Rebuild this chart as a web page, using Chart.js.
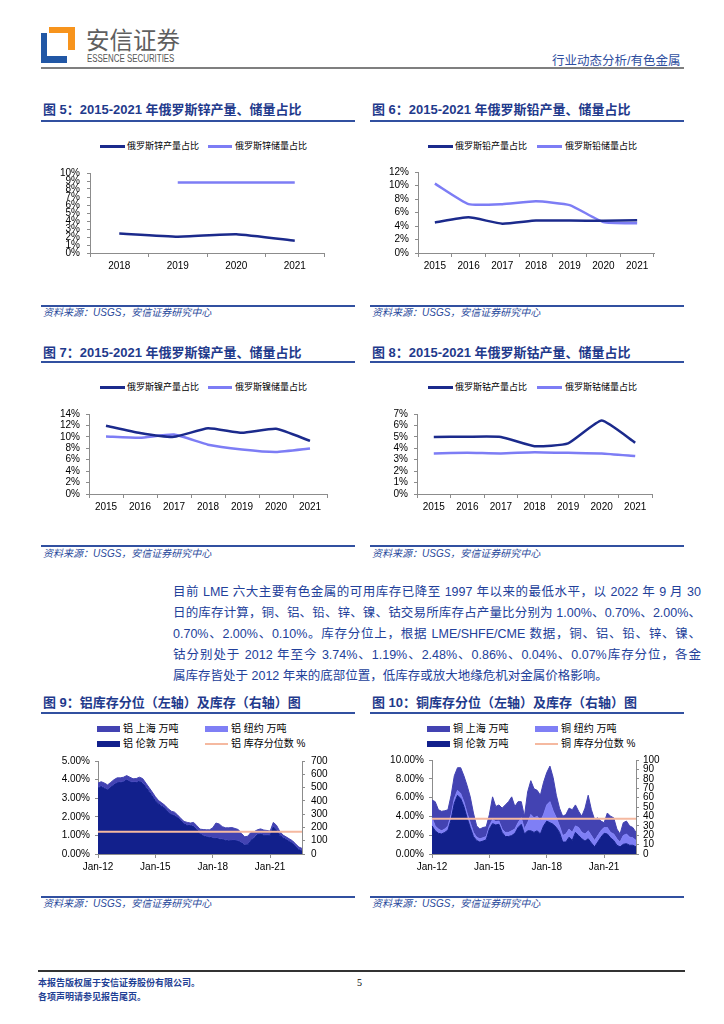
<!DOCTYPE html>
<html>
<head>
<meta charset="utf-8">
<script src="https://cdn.jsdelivr.net/npm/chart.js@4.4.0/dist/chart.umd.min.js"></script>
<style>
  body { margin: 0; background: #fff; width: 724px; height: 1024px; position: relative; overflow: hidden;
         font-family: "Liberation Sans", "Noto Sans CJK SC", sans-serif; }
  .abs { position: absolute; white-space: nowrap; }
  .title { position: absolute; white-space: nowrap; font-size: 13px; line-height: 16px; font-weight: bold; color: #1f3a8c; }
  .rule { position: absolute; height: 2px; background: #3150a0; }
  .src { position: absolute; white-space: nowrap; font-size: 10px; line-height: 14px; font-style: italic; color: #2a4a9c; }
  .leg { position: absolute; white-space: nowrap; font-size: 9px; line-height: 12px; color: #000; }
  .leg2 { position: absolute; white-space: nowrap; font-size: 10px; line-height: 12px; color: #000; }
  .mark { position: absolute; }
  .pline { position: absolute; left: 173px; width: 528px; font-size: 12.5px; line-height: 16px; color: #22409a;
           text-align: justify; text-align-last: justify; }
  canvas { position: absolute; }
</style>
</head>
<body>

<!-- header -->
<div class="mark" style="left:49px;top:27px;width:26px;height:6px;background:#f7941d"></div>
<div class="mark" style="left:68px;top:27px;width:7px;height:23px;background:#f7941d"></div>
<div class="mark" style="left:41px;top:33px;width:6px;height:30px;background:#2157a5"></div>
<div class="mark" style="left:41px;top:56px;width:26px;height:7px;background:#2157a5"></div>
<div class="abs" style="left:86px;top:26px;font-size:23.5px;line-height:26px;color:#5f5f5f;font-family:'Noto Sans CJK SC'">安信证券</div>
<div class="abs" style="left:87px;top:53px;font-size:10px;line-height:11px;color:#555;transform:scaleX(0.79);transform-origin:left top">ESSENCE SECURITIES</div>
<div class="abs" style="left:552px;top:54px;font-size:12.5px;line-height:14px;color:#2f4f9f">行业动态分析/有色金属</div>
<div class="mark" style="left:41px;top:67px;width:643px;height:2px;background:#7f7f7f"></div>

<!-- figure titles -->
<div class="title" style="left:43px;top:102px">图 5：2015-2021 年俄罗斯锌产量、储量占比</div>
<div class="title" style="left:372px;top:102px">图 6：2015-2021 年俄罗斯铅产量、储量占比</div>
<div class="rule" style="left:41px;top:120px;width:314px"></div>
<div class="rule" style="left:370px;top:120px;width:314px"></div>

<div class="title" style="left:43px;top:345px">图 7：2015-2021 年俄罗斯镍产量、储量占比</div>
<div class="title" style="left:372px;top:345px">图 8：2015-2021 年俄罗斯钴产量、储量占比</div>
<div class="rule" style="left:41px;top:361px;width:314px"></div>
<div class="rule" style="left:370px;top:361px;width:314px"></div>

<div class="title" style="left:43px;top:695px">图 9：铝库存分位（左轴）及库存（右轴）图</div>
<div class="title" style="left:372px;top:695px">图 10：铜库存分位（左轴）及库存（右轴）图</div>
<div class="rule" style="left:41px;top:712px;width:314px"></div>
<div class="rule" style="left:370px;top:712px;width:314px"></div>

<!-- legends -->
<div class="mark" style="left:100px;top:145px;width:25px;height:3px;background:#1b2a8c"></div>
<div class="leg" style="left:127px;top:140px">俄罗斯锌产量占比</div>
<div class="mark" style="left:208px;top:145px;width:24px;height:3px;background:#7d7df5"></div>
<div class="leg" style="left:235px;top:140px">俄罗斯锌储量占比</div>

<div class="mark" style="left:428px;top:145px;width:25px;height:3px;background:#1b2a8c"></div>
<div class="leg" style="left:455px;top:140px">俄罗斯铅产量占比</div>
<div class="mark" style="left:537px;top:145px;width:25px;height:3px;background:#7d7df5"></div>
<div class="leg" style="left:565px;top:140px">俄罗斯铅储量占比</div>

<div class="mark" style="left:100px;top:386px;width:25px;height:3px;background:#1b2a8c"></div>
<div class="leg" style="left:127px;top:381px">俄罗斯镍产量占比</div>
<div class="mark" style="left:208px;top:386px;width:24px;height:3px;background:#7d7df5"></div>
<div class="leg" style="left:235px;top:381px">俄罗斯镍储量占比</div>

<div class="mark" style="left:428px;top:386px;width:25px;height:3px;background:#1b2a8c"></div>
<div class="leg" style="left:455px;top:381px">俄罗斯钴产量占比</div>
<div class="mark" style="left:537px;top:386px;width:25px;height:3px;background:#7d7df5"></div>
<div class="leg" style="left:565px;top:381px">俄罗斯钴储量占比</div>

<div class="mark" style="left:97px;top:726px;width:23px;height:6px;background:#4343b2"></div>
<div class="leg2" style="left:123px;top:723px">铝 上海 万吨</div>
<div class="mark" style="left:205px;top:726px;width:23px;height:6px;background:#7f7ff5"></div>
<div class="leg2" style="left:231px;top:723px">铝 纽约 万吨</div>
<div class="mark" style="left:97px;top:741px;width:23px;height:6px;background:#12208c"></div>
<div class="leg2" style="left:123px;top:738px">铝 伦敦 万吨</div>
<div class="mark" style="left:205px;top:743px;width:23px;height:2px;background:#f5b9a0"></div>
<div class="leg2" style="left:231px;top:738px">铝 库存分位数 %</div>

<div class="mark" style="left:427px;top:726px;width:23px;height:6px;background:#4343b2"></div>
<div class="leg2" style="left:453px;top:723px">铜 上海 万吨</div>
<div class="mark" style="left:535px;top:726px;width:23px;height:6px;background:#7f7ff5"></div>
<div class="leg2" style="left:561px;top:723px">铜 纽约 万吨</div>
<div class="mark" style="left:427px;top:741px;width:23px;height:6px;background:#12208c"></div>
<div class="leg2" style="left:453px;top:738px">铜 伦敦 万吨</div>
<div class="mark" style="left:535px;top:743px;width:23px;height:2px;background:#f5b9a0"></div>
<div class="leg2" style="left:561px;top:738px">铜 库存分位数 %</div>

<!-- charts -->
<canvas id="c5" width="315" height="115" style="left:40px;top:160px"></canvas>
<canvas id="c6" width="315" height="115" style="left:370px;top:160px"></canvas>
<canvas id="c7" width="315" height="115" style="left:40px;top:402px"></canvas>
<canvas id="c8" width="315" height="115" style="left:370px;top:402px"></canvas>
<canvas id="c9" width="315" height="130" style="left:40px;top:749px"></canvas>
<canvas id="c10" width="315" height="130" style="left:370px;top:749px"></canvas>

<!-- sources -->
<div class="rule" style="left:41px;top:305px;width:314px"></div>
<div class="rule" style="left:370px;top:305px;width:314px"></div>
<div class="src" style="left:43px;top:306px">资料来源：USGS，安信证券研究中心</div>
<div class="src" style="left:372px;top:306px">资料来源：USGS，安信证券研究中心</div>

<div class="rule" style="left:41px;top:545px;width:314px"></div>
<div class="rule" style="left:370px;top:545px;width:314px"></div>
<div class="src" style="left:43px;top:547px">资料来源：USGS，安信证券研究中心</div>
<div class="src" style="left:372px;top:547px">资料来源：USGS，安信证券研究中心</div>

<div class="rule" style="left:41px;top:896px;width:314px"></div>
<div class="rule" style="left:370px;top:896px;width:314px"></div>
<div class="src" style="left:43px;top:897px">资料来源：USGS，安信证券研究中心</div>
<div class="src" style="left:372px;top:897px">资料来源：USGS，安信证券研究中心</div>

<!-- paragraph -->
<div class="pline" style="top:584px">目前 LME 六大主要有色金属的可用库存已降至 1997 年以来的最低水平，以 2022 年 9 月 30</div>
<div class="pline" style="top:605px">日的库存计算，铜、铝、铅、锌、镍、钴交易所库存占产量比分别为 1.00%、0.70%、2.00%、</div>
<div class="pline" style="top:626px">0.70%、2.00%、0.10%。库存分位上，根据 LME/SHFE/CME 数据，铜、铝、铅、锌、镍、</div>
<div class="pline" style="top:647px">钴分别处于 2012 年至今 3.74%、1.19%、2.48%、0.86%、0.04%、0.07%库存分位，各金</div>
<div class="pline" style="top:668px;text-align-last:left">属库存皆处于 2012 年来的底部位置，低库存或放大地缘危机对金属价格影响。</div>

<!-- footer -->
<div class="mark" style="left:38px;top:970px;width:647px;height:1.5px;background:#333"></div>
<div class="abs" style="left:38px;top:977px;font-size:9px;line-height:12px;font-weight:bold;color:#1f3f94;font-family:'Noto Sans CJK SC'">本报告版权属于安信证券股份有限公司。</div>
<div class="abs" style="left:38px;top:991px;font-size:9px;line-height:12px;font-weight:bold;color:#1f3f94;font-family:'Noto Sans CJK SC'">各项声明请参见报告尾页。</div>
<div class="abs" style="left:357px;top:977px;font-size:10px;line-height:12px;color:#000;font-family:'Liberation Serif'">5</div>

<script>
// colours
const PROD_COLOR = '#1b2a8c';
const RES_COLOR = '#7d7df5';
const AXIS_COLOR = '#8c8c8c';
const LDN_COLOR = '#12208c';
const NY_COLOR = '#7f7ff5';
const SH_COLOR = '#4343b2';
const PCT_COLOR = '#f5b9a0';

// fig 5-8: share of Russia in world production / reserves (%)
const znYears = ['2018', '2019', '2020', '2021'];
const znProd = [2.43, 2.04, 2.35, 1.53];
const znRes = [null, 8.82, 8.82, 8.82];

const years = ['2015', '2016', '2017', '2018', '2019', '2020', '2021'];
const pbProd = [4.53, 5.28, 4.35, 4.81, 4.81, 4.77, 4.86];
const pbRes = [10.28, 7.24, 7.24, 7.66, 7.10, 4.58, 4.39];
const niProd = [11.95, 10.68, 10.0, 11.5, 10.7, 11.4, 9.3];
const niRes = [10.07, 9.85, 10.4, 8.63, 7.8, 7.36, 7.97];
const coProd = [4.99, 5.01, 4.99, 4.18, 4.43, 6.43, 4.49];
const coRes = [3.55, 3.6, 3.55, 3.66, 3.6, 3.55, 3.32];

// fig 9-10: exchange stocks (万吨), every two months
const months = [
  'Jan-12', 'Mar-12', 'May-12', 'Jul-12', 'Sep-12', 'Nov-12',
  'Jan-13', 'Mar-13', 'May-13', 'Jul-13', 'Sep-13', 'Nov-13',
  'Jan-14', 'Mar-14', 'May-14', 'Jul-14', 'Sep-14', 'Nov-14',
  'Jan-15', 'Mar-15', 'May-15', 'Jul-15', 'Sep-15', 'Nov-15',
  'Jan-16', 'Mar-16', 'May-16', 'Jul-16', 'Sep-16', 'Nov-16',
  'Jan-17', 'Mar-17', 'May-17', 'Jul-17', 'Sep-17', 'Nov-17',
  'Jan-18', 'Mar-18', 'May-18', 'Jul-18', 'Sep-18', 'Nov-18',
  'Jan-19', 'Mar-19', 'May-19', 'Jul-19', 'Sep-19', 'Nov-19',
  'Jan-20', 'Mar-20', 'May-20', 'Jul-20', 'Sep-20', 'Nov-20',
  'Jan-21', 'Mar-21', 'May-21', 'Jul-21', 'Sep-21', 'Nov-21',
  'Jan-22', 'Mar-22', 'May-22', 'Jul-22', 'Sep-22'
];
const monthTicks = ['Jan-12', 'Jan-15', 'Jan-18', 'Jan-21'];

const alLondon = [497, 509, 495, 483, 502, 521, 536, 538, 543, 558,
  543, 538, 538, 548, 533, 502, 471, 437, 401, 377,
  360, 345, 316, 297, 290, 273, 249, 227, 215, 215,
  208, 183, 152, 138, 130, 126, 121, 118, 113, 109,
  104, 99, 101, 101, 97, 84, 68, 70, 104, 123,
  147, 150, 142, 140, 142, 205, 181, 142, 123, 109,
  94, 80, 58, 34, 22];
const alNewYork = [1, 1, 1, 1, 1, 1, 1, 1, 1, 1,
  1, 1, 1, 1, 1, 1, 1, 1, 1, 1,
  1, 1, 1, 1, 1, 1, 1, 1, 1, 1,
  1, 1, 1, 1, 1, 1, 1, 1, 1, 1,
  1, 1, 1, 1, 1, 1, 1, 1, 1, 1,
  1, 1, 1, 1, 1, 1, 1, 1, 1, 1,
  1, 1, 1, 1, 1];
const alShanghai = [36, 34, 38, 36, 36, 37, 36, 34, 34, 31,
  34, 27, 29, 29, 34, 31, 29, 29, 29, 24,
  24, 20, 24, 24, 24, 19, 17, 17, 22, 17,
  29, 29, 34, 45, 51, 55, 75, 114, 112, 96,
  92, 97, 97, 90, 86, 70, 60, 63, 58, 44,
  34, 38, 37, 36, 29, 32, 34, 29, 19, 19,
  19, 19, 17, 17, 19];
const alPct = 1.19;

const cuLondon = [29.9, 24.7, 22, 21.3, 23, 25.4, 36.8, 54, 62.5, 59.1,
  50.5, 38.5, 28.2, 18.6, 14.4, 12.7, 13.7, 15.1, 26.5, 32.3,
  30.9, 31.6, 23, 18.6, 18.6, 19.6, 22, 28.2, 31.6, 21.3,
  24.7, 24.7, 23, 24.7, 21.3, 29.9, 35, 33.3, 31.6, 28.2,
  23, 12.7, 12.7, 17.9, 14.4, 23, 19.6, 16.2, 13.7, 16.2,
  11.7, 7.6, 12.7, 17.9, 22, 21.3, 17.2, 14.4, 9.3, 7.6,
  10.3, 11, 9.3, 9.3, 7.6];
const cuNewYork = [8.6, 5.2, 4.5, 3.4, 3.5, 4.5, 5.1, 5.1, 5.2, 5.2,
  5.2, 5.1, 5.1, 4.4, 3.5, 3.5, 3.5, 3.5, 3.4, 4.5,
  3.5, 3.4, 3.5, 4.4, 4.4, 5.1, 4.5, 5.1, 6.9, 5.2,
  8.6, 17.2, 15.5, 15.5, 13.7, 12, 17.2, 22.4, 14.4, 10.3,
  6.9, 6.9, 8.6, 8.6, 8.6, 6.9, 8.6, 6.8, 7.6, 8.5,
  7.9, 6.8, 6.9, 6.8, 6.2, 6.9, 5.8, 6.9, 6.9, 5.1,
  9.3, 10.3, 8.6, 7.9, 6.8];
const cuShanghai = [18.9, 25.8, 20.6, 20.7, 19.5, 17.1, 20.6, 24.1, 24.1, 27.5,
  27.5, 29.3, 27.5, 20.6, 12, 10.3, 11, 10.3, 12, 24,
  16.1, 17.2, 22.3, 29.2, 32.7, 36.1, 24, 22.4, 17.2, 13.7,
  32.7, 36.1, 30.9, 27.5, 27.5, 34.4, 34.4, 37.8, 35.4, 24,
  18.9, 20.6, 20.6, 22.3, 24.1, 22.3, 17.2, 17.2, 27.5, 37.8,
  27.5, 22.4, 18.9, 10.3, 5.1, 15.4, 17.2, 17.2, 10.3, 8.6,
  13.7, 13.7, 12, 11, 8.6];
const cuPct = 3.74;

Chart.defaults.font.family = '"Liberation Sans", Arial, sans-serif';
Chart.defaults.font.size = 10;
Chart.defaults.color = '#000';

// share charts (fig 5-8)
function shareChart(id, labels, prod, res, yMax, yStep, yWidth, yPad, pad) {
    return new Chart(document.getElementById(id), {
        type: 'line',
        data: {
            labels: labels,
            datasets: [
                { data: prod, borderColor: PROD_COLOR, borderWidth: 2.5, pointRadius: 0, tension: 0.15 },
                { data: res, borderColor: RES_COLOR, borderWidth: 2.5, pointRadius: 0, tension: 0.15 }
            ]
        },
        options: {
            responsive: false,
            animation: false,
            events: [],
            layout: { padding: pad },
            plugins: { legend: { display: false }, tooltip: { enabled: false } },
            scales: {
                x: {
                    offset: true,
                    grid: { offset: true, drawOnChartArea: false, tickLength: 4, color: AXIS_COLOR },
                    border: { color: AXIS_COLOR },
                    ticks: { padding: 3, maxRotation: 0, autoSkip: false },
                    afterFit: s => { s.height = 20; }
                },
                y: {
                    min: 0,
                    max: yMax,
                    grid: { drawOnChartArea: false, tickLength: 3, color: AXIS_COLOR },
                    border: { color: AXIS_COLOR },
                    ticks: { stepSize: yStep, autoSkip: false, padding: yPad, callback: v => v + '%' },
                    afterFit: s => { s.width = yWidth; }
                }
            }
        }
    });
}

shareChart('c5', znYears, znProd, znRes, 10, 1, 50, 7, { left: 0, right: 31, top: 8, bottom: 2 });
shareChart('c6', years, pbProd, pbRes, 12, 2, 48, 6, { left: 0, right: 31, top: 8, bottom: 2 });
shareChart('c7', years, niProd, niRes, 14, 2, 49, 6, { left: 0, right: 28, top: 8, bottom: 3 });
shareChart('c8', years, coProd, coRes, 7, 1, 47, 6, { left: 0, right: 33, top: 8, bottom: 3 });

// stock charts (fig 9-10)
function stockChart(id, london, newYork, shanghai, pct, pctMax, stockMax, stockStep, widths, pad) {
    return new Chart(document.getElementById(id), {
        type: 'line',
        data: {
            labels: months,
            datasets: [
                { data: london, yAxisID: 'y1', backgroundColor: LDN_COLOR, borderColor: LDN_COLOR, borderWidth: 1, pointRadius: 0, fill: 'origin' },
                { data: newYork, yAxisID: 'y1', backgroundColor: NY_COLOR, borderColor: NY_COLOR, borderWidth: 1, pointRadius: 0, fill: '-1' },
                { data: shanghai, yAxisID: 'y1', backgroundColor: SH_COLOR, borderColor: SH_COLOR, borderWidth: 1, pointRadius: 0, fill: '-1' },
                {
                    data: [{ x: months[0], y: pct }, { x: months[months.length - 1], y: pct }],
                    yAxisID: 'y', borderColor: PCT_COLOR, borderWidth: 2, pointRadius: 0, fill: false, order: -1
                }
            ]
        },
        options: {
            responsive: false,
            animation: false,
            events: [],
            layout: { padding: pad },
            plugins: { legend: { display: false }, tooltip: { enabled: false } },
            scales: {
                x: {
                    offset: false,
                    grid: { drawOnChartArea: false, tickLength: 4, color: AXIS_COLOR },
                    border: { color: AXIS_COLOR },
                    ticks: {
                        padding: 3, maxRotation: 0, autoSkip: false,
                        callback: function (v) {
                            const l = this.getLabelForValue(v);
                            return monthTicks.includes(l) ? l : null;
                        }
                    },
                    afterFit: s => { s.height = 20; }
                },
                y: {
                    position: 'left',
                    min: 0,
                    max: pctMax,
                    grid: { drawOnChartArea: false, tickLength: 3, color: AXIS_COLOR },
                    border: { color: AXIS_COLOR },
                    ticks: { stepSize: pctMax / 5, autoSkip: false, padding: 5, callback: v => v.toFixed(2) + '%' },
                    afterFit: s => { s.width = widths[0]; }
                },
                y1: {
                    position: 'right',
                    stacked: true,
                    min: 0,
                    max: stockMax,
                    grid: { drawOnChartArea: false, tickLength: 3, color: AXIS_COLOR },
                    border: { color: AXIS_COLOR },
                    ticks: { stepSize: stockStep, autoSkip: false, padding: widths[2] },
                    afterFit: s => { s.width = widths[1]; }
                }
            }
        }
    });
}

stockChart('c9', alLondon, alNewYork, alShanghai, alPct, 5, 700, 100, [58, 45, 6], { left: 0, right: 8, top: 8, bottom: 5 });
stockChart('c10', cuLondon, cuNewYork, cuShanghai, cuPct, 10, 100, 10, [62, 45, 4], { left: 0, right: 4, top: 8, bottom: 5 });
</script>
</body>
</html>
